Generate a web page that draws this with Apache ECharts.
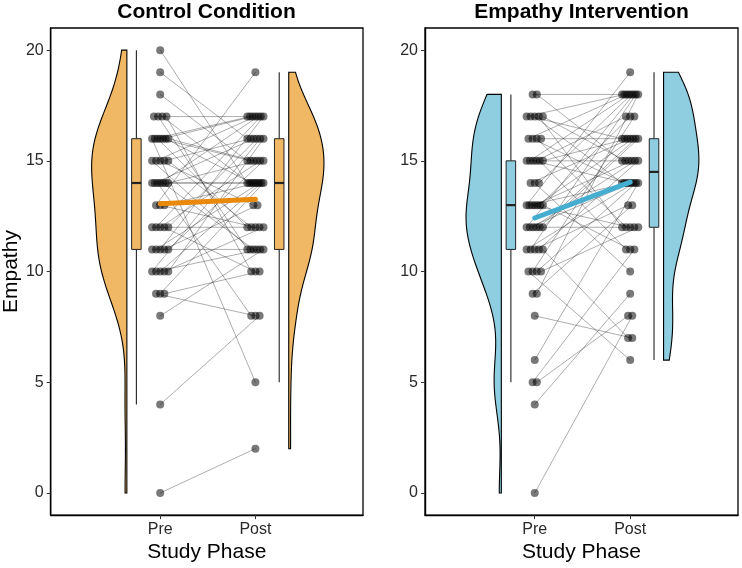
<!DOCTYPE html>
<html><head><meta charset="utf-8">
<script src="https://cdn.jsdelivr.net/npm/echarts@6/dist/echarts.min.js"></script>
<style>html,body{margin:0;padding:0;background:#fff}#c{width:742px;height:568px}</style>
</head><body><div id="c"></div>
<script>
// ---- data ----
const phaseLabels = ['Pre', 'Post'];
const panelTitles = ['Control Condition', 'Empathy Intervention'];
const yTicks = [0, 5, 10, 15, 20];
const controlPre = [20,19,18,17,17,17,17,16,16,16,16,16,16,16,15,15,15,15,15,14,14,14,14,14,14,14,13,13,13,12,12,12,12,12,11,11,11,11,11,10,10,10,10,10,9,9,9,8,4,0];
const controlPost = [14,16,15,17,11,14,10,5,17,12,15,17,14,15,11,17,13,16,12,14,16,8,17,11,14,15,19,12,14,12,17,15,10,16,11,14,17,13,15,16,11,14,12,16,8,14,10,11,8,2];
const interventionPre = [18,18,17,17,17,17,17,16,16,16,16,15,15,15,15,15,15,14,14,14,13,13,13,13,13,13,13,12,12,12,12,12,11,11,11,11,11,12,10,10,10,10,9,9,8,6,5,5,4,0];
const interventionPost = [18,15,18,16,14,12,15,18,14,12,16,15,18,14,17,11,16,16,10,18,19,14,12,15,16,17,11,18,14,15,12,16,14,18,13,15,7,16,6,17,14,12,13,18,7,14,11,8,9,8];

// ---- styling ----
const fillColors = ['#F0B865', '#8FCDE0'];
const meanColors = ['#E8890C', '#45AED0'];
const FONT = '"Liberation Sans", Arial, Helvetica, sans-serif';
const X_MIN = -0.15, X_MAX = 3.13;
const VIOLIN_EDGE = [0.65, 2.35], BOX_CENTER = [0.75, 2.25], BOX_HW = 0.05, VIOLIN_W = 0.37;

// ---- statistics ----
function quantile(s, p) {
  const h = (s.length - 1) * p, lo = Math.floor(h), hi = Math.min(lo + 1, s.length - 1);
  return s[lo] + (h - lo) * (s[hi] - s[lo]);
}
function boxStats(arr) {
  const s = arr.slice().sort((a, b) => a - b);
  const q1 = quantile(s, 0.25), med = quantile(s, 0.5), q3 = quantile(s, 0.75);
  const iqr = q3 - q1;
  const lo = s.find(v => v >= q1 - 1.5 * iqr);
  const hi = s.slice().reverse().find(v => v <= q3 + 1.5 * iqr);
  return { q1, med, q3, lo, hi };
}
function mean(a) { return a.reduce((x, y) => x + y, 0) / a.length; }
function violinPoly(arr, edge, side) {
  const s = arr.slice().sort((a, b) => a - b), n = s.length, m = mean(s);
  const sd = Math.sqrt(s.reduce((t, v) => t + (v - m) * (v - m), 0) / (n - 1));
  const iqr = quantile(s, 0.75) - quantile(s, 0.25);
  const bw = 0.9 * Math.min(sd, iqr / 1.34) * Math.pow(n, -0.2);
  const lo = s[0], hi = s[n - 1], K = 200, ys = [], ds = [];
  for (let i = 0; i <= K; i++) {
    const y = lo + (hi - lo) * i / K;
    let d = 0;
    for (const v of s) { const z = (y - v) / bw; d += Math.exp(-0.5 * z * z); }
    ys.push(y); ds.push(d / (n * bw * Math.sqrt(2 * Math.PI)));
  }
  const mx = Math.max(...ds);
  const pts = ys.map((y, i) => [edge + side * VIOLIN_W * ds[i] / mx, y]);
  pts.push([edge, hi]); pts.push([edge, lo]);
  return pts;
}
function jitterX(arr, center) {
  const groups = {};
  arr.forEach((v, i) => { (groups[v] = groups[v] || []).push(i); });
  const xs = new Array(arr.length);
  Object.values(groups).forEach(idx => {
    const n = idx.length, w = Math.min(0.085, 0.022 * (n - 1));
    idx.forEach((i, k) => { xs[i] = n === 1 ? center : center - w + 2 * w * k / (n - 1); });
  });
  return xs;
}

const panels = [[controlPre, controlPost], [interventionPre, interventionPost]].map(([pre, post]) => ({
  pre, post,
  xPre: jitterX(pre, 1), xPost: jitterX(post, 2),
  violins: [violinPoly(pre, VIOLIN_EDGE[0], -1), violinPoly(post, VIOLIN_EDGE[1], 1)],
  boxes: [boxStats(pre), boxStats(post)],
  means: [mean(pre), mean(post)]
}));

const grids = [
  { left: 50, right: 379, top: 28, bottom: 49 },
  { left: 425, right: 4, top: 28, bottom: 49 }
].map(g => Object.assign(g, { show: true, borderColor: '#000', borderWidth: 1.3, backgroundColor: '#fff' }));

const xAxes = [0, 1].map(p => ({
  type: 'value', gridIndex: p, min: X_MIN, max: X_MAX,
  axisLine: { show: true, onZero: false, lineStyle: { color: '#000', width: 1.4 } },
  axisTick: { show: true, customValues: [1, 2], length: 4, lineStyle: { color: '#333' } },
  axisLabel: { customValues: [1, 2], formatter: v => phaseLabels[Math.round(v) - 1], fontSize: 16, color: '#2a2a2a', fontFamily: FONT, margin: 6 },
  splitLine: { show: false },
  name: 'Study Phase', nameLocation: 'middle', nameGap: 13,
  nameTextStyle: { fontSize: 21, color: '#000', fontFamily: FONT }
}));
const yAxes = [0, 1].map(p => ({
  type: 'value', gridIndex: p, min: -1, max: 21,
  axisLine: { show: true, onZero: false, lineStyle: { color: '#000', width: 1.4 } },
  axisTick: { show: true, customValues: yTicks, length: 4, lineStyle: { color: '#333' } },
  axisLabel: { customValues: yTicks, fontSize: 16, color: '#2a2a2a', fontFamily: FONT, margin: 7 },
  splitLine: { show: false },
  name: p === 0 ? 'Empathy' : '', nameLocation: 'middle', nameGap: 20,
  nameTextStyle: { fontSize: 21, color: '#000', fontFamily: FONT }
}));

const series = [];
panels.forEach((P, p) => {
  series.push({
    type: 'custom', xAxisIndex: p, yAxisIndex: p, z: 1, silent: true,
    data: [[1, 10], [2, 10]],
    renderItem: (params, api) => ({
      type: 'polygon',
      shape: { points: P.violins[params.dataIndex].map(pt => api.coord(pt)) },
      style: { fill: fillColors[p], stroke: '#000', lineWidth: 1.1 }
    })
  });
  series.push({
    type: 'custom', xAxisIndex: p, yAxisIndex: p, z: 2, silent: true,
    data: [[1, 10], [2, 10]],
    renderItem: (params, api) => {
      const b = P.boxes[params.dataIndex], cx = BOX_CENTER[params.dataIndex];
      const c = (x, y) => api.coord([x, y]);
      const tl = c(cx - BOX_HW, b.q3), br = c(cx + BOX_HW, b.q1);
      const ln = (a, d, w) => ({ type: 'line', shape: { x1: a[0], y1: a[1], x2: d[0], y2: d[1] }, style: { stroke: '#222', lineWidth: w } });
      return { type: 'group', children: [
        ln(c(cx, b.q3), c(cx, b.hi), 1.1),
        ln(c(cx, b.q1), c(cx, b.lo), 1.1),
        { type: 'rect', shape: { x: tl[0], y: tl[1], width: br[0] - tl[0], height: br[1] - tl[1] }, style: { fill: fillColors[p], stroke: '#222', lineWidth: 1 } },
        ln(c(cx - BOX_HW, b.med), c(cx + BOX_HW, b.med), 2.2)
      ] };
    }
  });
  series.push({
    type: 'custom', xAxisIndex: p, yAxisIndex: p, z: 3, silent: true,
    data: P.pre.map((v, i) => [P.xPre[i], v, P.xPost[i], P.post[i]]),
    renderItem: (params, api) => {
      const a = api.coord([api.value(0), api.value(1)]), d = api.coord([api.value(2), api.value(3)]);
      return { type: 'line', shape: { x1: a[0], y1: a[1], x2: d[0], y2: d[1] }, style: { stroke: 'rgba(0,0,0,0.32)', lineWidth: 1 } };
    }
  });
  series.push({
    type: 'scatter', xAxisIndex: p, yAxisIndex: p, z: 4, symbolSize: 8, silent: true,
    itemStyle: { color: 'rgba(0,0,0,0.66)' },
    data: P.pre.map((v, i) => [P.xPre[i], v]).concat(P.post.map((v, i) => [P.xPost[i], v]))
  });
  series.push({
    type: 'line', xAxisIndex: p, yAxisIndex: p, z: 5, symbol: 'none', silent: true,
    lineStyle: { color: meanColors[p], width: 5, cap: 'round' },
    data: [[1, P.means[0]], [2, P.means[1]]]
  });
});

const chart = echarts.init(document.getElementById('c'), null, { renderer: 'canvas' });
chart.setOption({
  animation: false,
  backgroundColor: '#fff',
  grid: grids, xAxis: xAxes, yAxis: yAxes, series,
  graphic: panelTitles.map((t, p) => ({
    type: 'text', x: p === 0 ? 206.5 : 581.5, y: 12,
    style: { text: t, font: 'bold 21px ' + FONT, align: 'center', verticalAlign: 'middle', fill: '#000' }
  }))
});
</script></body></html>
